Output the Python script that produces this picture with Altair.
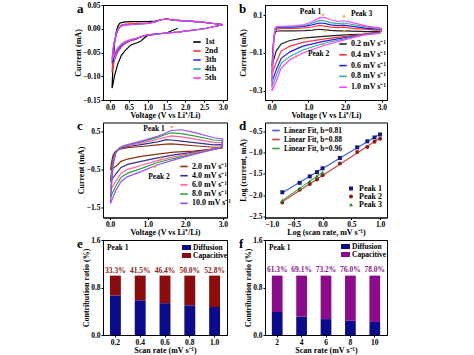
import altair as alt
import pandas as pd

FONT = "Liberation Serif"

# ---------------- panel a : CV cycles ----------------
A_NAMES = ["1st", "2nd", "3th", "4th", "5th"]
A_COLORS = ["#000000", "#ff3333", "#3333ff", "#22aaaa", "#ff33ff"]
A_V_CATH = [3.0, 2.5, 2.0, 1.8, 1.5, 1.2, 1.0, 0.9, 0.8, 0.7, 0.55, 0.4, 0.3, 0.2, 0.12, 0.07, 0.05]
A_I_CATH = [
    [None, None, None, 0.001, -0.009, -0.012, -0.014, -0.020, -0.027, -0.030, -0.034, -0.046, -0.056, -0.075, -0.098, -0.118, -0.125],
    [0.0085, 0.0, -0.005, -0.007, -0.009, -0.011, -0.013, -0.015, -0.018, -0.022, -0.025, -0.031, -0.038, -0.050, -0.065, -0.083, -0.092],
    [0.0085, 0.0, -0.005, -0.007, -0.009, -0.011, -0.013, -0.015, -0.018, -0.021, -0.024, -0.029, -0.035, -0.045, -0.057, -0.068, -0.073],
    [0.0085, 0.0, -0.005, -0.007, -0.009, -0.011, -0.013, -0.015, -0.017, -0.020, -0.023, -0.028, -0.033, -0.042, -0.053, -0.062, -0.066],
    [0.0085, 0.0, -0.005, -0.007, -0.009, -0.011, -0.013, -0.015, -0.017, -0.020, -0.023, -0.027, -0.032, -0.041, -0.051, -0.060, -0.064],
]
A_V_AN = [0.05, 0.08, 0.12, 0.16, 0.2, 0.25, 0.3, 0.4, 0.6, 0.8, 1.0, 1.2, 1.35, 1.5, 1.7, 2.0, 2.4, 2.8, 3.0]
A_I_AN = [
    [-0.125, -0.07, -0.03, -0.008, 0.004, 0.011, 0.013, 0.0145, 0.015, 0.015, 0.0152, 0.016, 0.019, 0.021, 0.018, 0.016, 0.0145, 0.0105, 0.0085],
    [-0.092, -0.05, -0.026, -0.013, -0.003, 0.003, 0.008, 0.010, 0.011, 0.0115, 0.012, 0.0145, 0.019, 0.020, 0.018, 0.0165, 0.0145, 0.0105, 0.0085],
    [-0.073, -0.045, -0.025, -0.013, -0.003, 0.003, 0.006, 0.008, 0.009, 0.010, 0.0115, 0.0145, 0.019, 0.020, 0.018, 0.0165, 0.0145, 0.0105, 0.0085],
    [-0.066, -0.042, -0.024, -0.013, -0.003, 0.003, 0.006, 0.008, 0.009, 0.010, 0.0115, 0.0145, 0.019, 0.020, 0.018, 0.0165, 0.0145, 0.0105, 0.0085],
    [-0.064, -0.041, -0.024, -0.013, -0.003, 0.003, 0.006, 0.008, 0.009, 0.010, 0.0115, 0.0145, 0.019, 0.020, 0.018, 0.0165, 0.0145, 0.0105, 0.0085],
]

# ---------------- panel b : CV at low scan rates ----------------
B_NAMES = ["0.2 mV s⁻¹", "0.4 mV s⁻¹", "0.6 mV s⁻¹", "0.8 mV s⁻¹", "1.0 mV s⁻¹"]
B_COLORS = ["#222222", "#ff3333", "#2222dd", "#33aaaa", "#ff44ff"]
B_V_CATH = [3.0, 2.95, 2.5, 2.0, 1.4, 0.85, 0.5, 0.26, 0.125, 0.05, 0.01]
B_I_CATH = [
    [0.015, 0.010, 0.0, -0.005, -0.012, -0.022, -0.034, -0.052, -0.090, -0.140, -0.170],
    [0.020, 0.010, -0.002, -0.012, -0.027, -0.044, -0.064, -0.090, -0.150, -0.190, -0.210],
    [0.025, 0.008, -0.004, -0.019, -0.039, -0.064, -0.094, -0.128, -0.190, -0.230, -0.250],
    [0.028, 0.006, -0.005, -0.024, -0.050, -0.084, -0.118, -0.155, -0.220, -0.260, -0.280],
    [0.030, 0.004, -0.006, -0.030, -0.062, -0.100, -0.135, -0.180, -0.250, -0.285, -0.300],
]
B_V_AN = [0.01, 0.03, 0.06, 0.1, 0.15, 0.3, 0.6, 0.9, 1.1, 1.3, 1.45, 1.6, 1.8, 1.95, 2.2, 2.6, 3.0]
B_I_AN = [
    [-0.170, -0.100, -0.020, 0.010, 0.016, 0.017, 0.017, 0.018, 0.020, 0.025, 0.022, 0.019, 0.017, 0.017, 0.015, 0.013, 0.015],
    [-0.210, -0.120, -0.020, 0.020, 0.027, 0.029, 0.030, 0.032, 0.037, 0.045, 0.042, 0.036, 0.034, 0.036, 0.030, 0.024, 0.020],
    [-0.250, -0.140, -0.020, 0.025, 0.033, 0.035, 0.036, 0.040, 0.048, 0.058, 0.056, 0.048, 0.044, 0.047, 0.040, 0.030, 0.025],
    [-0.280, -0.160, -0.020, 0.030, 0.037, 0.038, 0.040, 0.045, 0.057, 0.072, 0.070, 0.060, 0.055, 0.058, 0.050, 0.036, 0.028],
    [-0.300, -0.170, -0.020, 0.035, 0.040, 0.041, 0.043, 0.050, 0.065, 0.085, 0.087, 0.075, 0.066, 0.070, 0.060, 0.042, 0.030],
]
B_NOTE_TEXT = ["Peak 1", "Peak 3", "Peak 2"]
B_NOTE_V = [1.06, 2.45, 1.28]
B_NOTE_I = [0.114, 0.105, -0.105]
B_ARROW_V = [1.40, 1.97, 1.47, 1.97, 0.88, 1.40, 0.65]
B_ARROW_I = [0.100, 0.090, 0.014, 0.012, -0.022, -0.052, -0.118]
B_ARROW_DIR = ["down", "down", "down", "down", "up", "up", "up"]

# ---------------- panel c : CV at high scan rates ----------------
C_NAMES = ["2.0 mV s⁻¹", "4.0 mV s⁻¹", "6.0 mV s⁻¹", "8.0 mV s⁻¹", "10.0 mV s⁻¹"]
C_COLORS = ["#8b3010", "#3b2f8f", "#ff5f9f", "#2f9f3f", "#9b4dff"]
C_V_CATH = [3.0, 2.95, 2.76, 2.23, 1.7, 1.26, 0.82, 0.465, 0.29, 0.155, 0.05, 0.01]
C_I_CATH = [
    [0.08, 0.05, 0.04, -0.02, -0.05, -0.10, -0.16, -0.23, -0.29, -0.42, -0.49, -0.50],
    [0.15, 0.06, 0.03, -0.05, -0.12, -0.20, -0.29, -0.37, -0.45, -0.62, -0.76, -0.80],
    [0.20, 0.06, 0.03, -0.07, -0.17, -0.27, -0.40, -0.50, -0.60, -0.80, -0.98, -1.05],
    [0.25, 0.06, 0.02, -0.09, -0.21, -0.32, -0.48, -0.60, -0.71, -0.93, -1.15, -1.25],
    [0.30, 0.07, 0.02, -0.11, -0.25, -0.38, -0.56, -0.69, -0.82, -1.05, -1.30, -1.40],
]
C_V_AN = [0.01, 0.04, 0.08, 0.15, 0.25, 0.35, 0.465, 0.82, 1.26, 1.5, 1.62, 1.9, 2.23, 2.76, 3.0]
C_I_AN = [
    [-0.50, -0.30, -0.12, -0.02, 0.03, 0.05, 0.07, 0.10, 0.14, 0.16, 0.17, 0.15, 0.12, 0.08, 0.08],
    [-0.80, -0.50, -0.20, -0.04, 0.04, 0.07, 0.10, 0.15, 0.22, 0.28, 0.27, 0.24, 0.20, 0.14, 0.15],
    [-1.05, -0.65, -0.28, -0.05, 0.05, 0.09, 0.12, 0.19, 0.29, 0.35, 0.38, 0.35, 0.30, 0.21, 0.20],
    [-1.25, -0.80, -0.35, -0.06, 0.06, 0.10, 0.14, 0.22, 0.34, 0.42, 0.46, 0.44, 0.38, 0.27, 0.25],
    [-1.40, -0.90, -0.40, -0.07, 0.07, 0.12, 0.15, 0.24, 0.37, 0.46, 0.52, 0.54, 0.47, 0.33, 0.30],
]
C_NOTE_TEXT = ["Peak 1", "Peak 2"]
C_NOTE_V = [1.17, 1.30]
C_NOTE_I = [0.57, -0.71]
C_ARROW_V = [1.64, 1.33, 1.20]
C_ARROW_I = [0.60, -0.20, -0.42]
C_ARROW_DIR = ["down", "up", "up"]

# ---------------- panel d : log i vs log v ----------------
D_PEAKS = ["Peak 1", "Peak 2", "Peak 3"]
D_FITS = ["Linear Fit, b=0.81", "Linear Fit, b=0.88", "Linear Fit, b=0.96"]
D_MARK_COLORS = ["#1a1a7a", "#8b1a1a", "#2a8a2a"]
D_FIT_COLORS = ["#3a5ad0", "#c84040", "#3aa03a"]
D_SHAPES = ["square", "circle", "triangle-up"]
D_LOGV = [-0.699, -0.398, -0.222, -0.097, 0.0, 0.301, 0.602, 0.778, 0.903, 1.0]
D_P1 = [-1.93, -1.71, -1.56, -1.46, -1.37, -1.13, -0.88, -0.74, -0.65, -0.58]
D_P2 = [-2.17, -1.87, -1.74, -1.63, -1.53, -1.26, -0.99, -0.87, -0.75, -0.68]
D_P3 = [-2.12, -1.84, -1.67, -1.55, -1.47]

# ---------------- panels e, f : contribution ratios ----------------
KINDS = ["Diffusion", "Capacitive"]
E_RATES = ["0.2", "0.4", "0.6", "0.8", "1.0"]
E_DIF = [0.667, 0.585, 0.536, 0.500, 0.472]
E_CAP = [0.333, 0.415, 0.464, 0.500, 0.528]
E_LABELS = ["33.3%", "41.5%", "46.4%", "50.0%", "52.8%"]
E_COLORS = ["#0c0c8a", "#8a0c0c"]
E_TEXT_COLOR = "#8a1a1a"
F_RATES = ["2", "4", "6", "8", "10"]
F_DIF = [0.387, 0.309, 0.268, 0.240, 0.220]
F_CAP = [0.613, 0.691, 0.732, 0.760, 0.780]
F_LABELS = ["61.3%", "69.1%", "73.2%", "76.0%", "78.0%"]
F_COLORS = ["#0c0c8a", "#8a0c8a"]
F_TEXT_COLOR = "#8a1a8a"

V_TICKS = [0.0, 0.5, 1.0, 1.5, 2.0, 2.5, 3.0]
LW, RW, H = 124, 122, 95


def cv_frame(names, v_cath, i_cath, v_an, i_an):
    rows = []
    for n, ic, ia in zip(names, i_cath, i_an):
        k = 0
        for v, i in list(zip(v_cath, ic)) + list(zip(v_an, ia)):
            if i is None:
                continue
            rows.append({"curve": n, "V": v, "I": i, "k": k})
            k += 1
    return pd.DataFrame(rows)


def letter(ch):
    return alt.Chart(pd.DataFrame({"t": [ch]})).mark_text(
        font=FONT, fontWeight="bold", fontSize=13, align="left", baseline="alphabetic"
    ).encode(text="t:N", x=alt.value(-26), y=alt.value(7.5))


def cv_chart(df, names, colors, xdom, ydom, yticks, yfmt, lx, ly, rowpad):
    x = alt.X("V:Q", scale=alt.Scale(domain=xdom, nice=False, zero=False),
              axis=alt.Axis(values=V_TICKS, format=".1f", title="Voltage (V vs Li⁺/Li)"))
    y = alt.Y("I:Q", scale=alt.Scale(domain=ydom, nice=False, zero=False),
              axis=alt.Axis(values=yticks, format=yfmt, title="Current (mA)"))
    lines = alt.Chart(df).mark_line(strokeWidth=1.2, clip=True).encode(
        x=x, y=y,
        color=alt.Color("curve:N", scale=alt.Scale(domain=names, range=colors),
                        legend=alt.Legend(title=None, orient="none", legendX=lx, legendY=ly,
                                          symbolType="stroke", symbolStrokeWidth=1.6, symbolSize=56,
                                          labelFontSize=8, rowPadding=rowpad, labelOffset=3, padding=0)),
        order="k:Q",
    )
    return lines


# panel a
df_a = cv_frame(A_NAMES, A_V_CATH, A_I_CATH, A_V_AN, A_I_AN)
la = cv_chart(df_a, A_NAMES, A_COLORS, [-0.19, 3.11], [-0.15, 0.05],
              [-0.15, -0.10, -0.05, 0.0, 0.05], ".2f", 89, 32, -0.5)
chart_a = alt.layer(la, letter("a")).properties(width=LW, height=H)

# panel b
df_b = cv_frame(B_NAMES, B_V_CATH, B_I_CATH, B_V_AN, B_I_AN)
lb = cv_chart(df_b, B_NAMES, B_COLORS, [-0.18, 3.14], [-0.348, 0.153],
              [-0.3, -0.2, -0.1, 0.0, 0.1], ".1f", 73, 34, 1.8)
notes_b = alt.Chart(pd.DataFrame({"V": B_NOTE_V, "I": B_NOTE_I, "t": B_NOTE_TEXT})).mark_text(
    font=FONT, fontWeight="bold", fontSize=7.5, color="black").encode(x="V:Q", y="I:Q", text="t:N")
arr_b = alt.Chart(pd.DataFrame({"V": B_ARROW_V, "I": B_ARROW_I, "d": B_ARROW_DIR})).mark_point(
    filled=True, size=10, color="#f0a030", opacity=1).encode(
    x="V:Q", y="I:Q",
    shape=alt.Shape("d:N", scale=alt.Scale(domain=["down", "up"], range=["triangle-down", "triangle-up"]), legend=None))
chart_b = alt.layer(lb, arr_b, notes_b, letter("b")).properties(width=RW, height=H)

# panel c
df_c = cv_frame(C_NAMES, C_V_CATH, C_I_CATH, C_V_AN, C_I_AN)
lc = cv_chart(df_c, C_NAMES, C_COLORS, [-0.19, 3.11], [-1.765, 0.73],
              [-1.5, -1.0, -0.5, 0.0, 0.5], ".1f", 76, 39, 0.2)
notes_c = alt.Chart(pd.DataFrame({"V": C_NOTE_V, "I": C_NOTE_I, "t": C_NOTE_TEXT})).mark_text(
    font=FONT, fontWeight="bold", fontSize=7.5, color="black").encode(x="V:Q", y="I:Q", text="t:N")
arr_c = alt.Chart(pd.DataFrame({"V": C_ARROW_V, "I": C_ARROW_I, "d": C_ARROW_DIR})).mark_point(
    filled=True, size=10, color="#f0a030", opacity=1).encode(
    x="V:Q", y="I:Q",
    shape=alt.Shape("d:N", scale=alt.Scale(domain=["down", "up"], range=["triangle-down", "triangle-up"]), legend=None))
chart_c = alt.layer(lc, arr_c, notes_c, letter("c")).properties(width=LW, height=H)

# panel d
rows = []
for peak, fit, ys in zip(D_PEAKS, D_FITS, [D_P1, D_P2, D_P3]):
    for lx_, ly_ in zip(D_LOGV, ys):
        rows.append({"lx": lx_, "ly": ly_, "peak": peak, "fit": fit})
df_d = pd.DataFrame(rows)
xd = alt.X("lx:Q", scale=alt.Scale(domain=[-1.0, 1.12], nice=False, zero=False),
           axis=alt.Axis(values=[-1.0, -0.5, 0.0, 0.5, 1.0], format=".1f", title="Log (scan rate, mV s⁻¹)"))
yd = alt.Y("ly:Q", scale=alt.Scale(domain=[-2.52, -0.3], nice=False, zero=False),
           axis=alt.Axis(values=[-2.5, -2.0, -1.5, -1.0, -0.5], format=".1f", title="Log (current, mA)"))
fits = alt.Chart(df_d).transform_regression("lx", "ly", groupby=["fit"]).mark_line(strokeWidth=1.1).encode(
    x=xd, y=yd,
    stroke=alt.Stroke("fit:N", scale=alt.Scale(domain=D_FITS, range=D_FIT_COLORS),
                      legend=alt.Legend(title=None, orient="none", legendX=6, legendY=3,
                                        symbolType="stroke", symbolStrokeWidth=1.6, symbolSize=56,
                                        labelFontSize=7.5, rowPadding=-0.8, labelOffset=3, padding=0)))
mk_legend = alt.Legend(title=None, orient="none", legendX=82, legendY=62, labelFontSize=8,
                       rowPadding=-0.6, labelOffset=4, padding=0, symbolSize=16, symbolStrokeWidth=0)
pts = alt.Chart(df_d).mark_point(filled=True, size=16, opacity=1, strokeWidth=0).encode(
    x=xd, y=yd,
    fill=alt.Fill("peak:N", scale=alt.Scale(domain=D_PEAKS, range=D_MARK_COLORS), legend=mk_legend),
    shape=alt.Shape("peak:N", scale=alt.Scale(domain=D_PEAKS, range=D_SHAPES), legend=mk_legend))
chart_d = alt.layer(fits, pts, letter("d")).properties(width=RW, height=H)


# panels e, f
def bar_chart(rates, dif, cap, labels, colors, tcolor, w, lx, ly, ch, ty):
    rows = []
    for r, d_, c_ in zip(rates, dif, cap):
        rows.append({"rate": r, "kind": KINDS[0], "val": d_, "ord": 0})
        rows.append({"rate": r, "kind": KINDS[1], "val": c_, "ord": 1})
    df = pd.DataFrame(rows)
    x = alt.X("rate:N", sort=rates, scale=alt.Scale(paddingInner=0.56, paddingOuter=0.28),
              axis=alt.Axis(labelAngle=0, title="Scan rate (mV s⁻¹)"))
    bars = alt.Chart(df).mark_bar().encode(
        x=x,
        y=alt.Y("val:Q", stack="zero", scale=alt.Scale(domain=[0, 1.6], nice=False),
                axis=alt.Axis(values=[0.0, 0.4, 0.8, 1.2, 1.6], format=".1f", title="Contribution ratio (%)")),
        color=alt.Color("kind:N", scale=alt.Scale(domain=KINDS, range=colors),
                        legend=alt.Legend(title=None, orient="none", legendX=lx, legendY=ly,
                                          symbolType="M-1,-0.55H1V0.55H-1Z", symbolSize=81,
                                          symbolStrokeWidth=0, labelFontSize=7.5, rowPadding=-1.5,
                                          labelOffset=2, padding=0)),
        order=alt.Order("ord:Q"),
    )
    txt = alt.Chart(pd.DataFrame({"rate": rates, "t": labels})).mark_text(
        font=FONT, fontWeight="bold", fontSize=7.5, color=tcolor).encode(
        x=alt.X("rate:N", sort=rates), y=alt.datum(ty), text="t:N")
    peak = alt.Chart(pd.DataFrame({"t": ["Peak 1"]})).mark_text(
        font=FONT, fontWeight="bold", fontSize=7.5, align="left", baseline="middle").encode(
        text="t:N", x=alt.value(4), y=alt.value(8))
    return alt.layer(bars, txt, peak, letter(ch)).properties(width=w, height=H)


chart_e = bar_chart(E_RATES, E_DIF, E_CAP, E_LABELS, E_COLORS, E_TEXT_COLOR, LW, 79, 3, "e", 1.07)
chart_f = bar_chart(F_RATES, F_DIF, F_CAP, F_LABELS, F_COLORS, F_TEXT_COLOR, RW, 76, 2, "f", 1.09)

chart = alt.concat(
    chart_a, chart_b, chart_c, chart_d, chart_e, chart_f,
    columns=2, spacing={"row": 22.5, "column": 38}, bounds="flush",
).resolve_scale(
    color="independent", fill="independent", stroke="independent", shape="independent",
    x="independent", y="independent",
).properties(
    padding={"left": 73, "top": 0, "right": 5, "bottom": 0},
).configure_view(
    stroke="black", strokeWidth=1
).configure_axis(
    labelFont=FONT, titleFont=FONT, labelFontWeight="bold", titleFontWeight="bold",
    labelFontSize=7.5, titleFontSize=8, labelColor="black", titleColor="black",
    domainColor="black", tickColor="black", tickSize=2, labelPadding=1, titlePadding=0.5, grid=False,
).configure_legend(
    labelFont=FONT, labelFontWeight="bold", labelColor="black"
).configure_text(font=FONT)

chart.save("out.html", embed_options={"renderer": "svg", "actions": False})
